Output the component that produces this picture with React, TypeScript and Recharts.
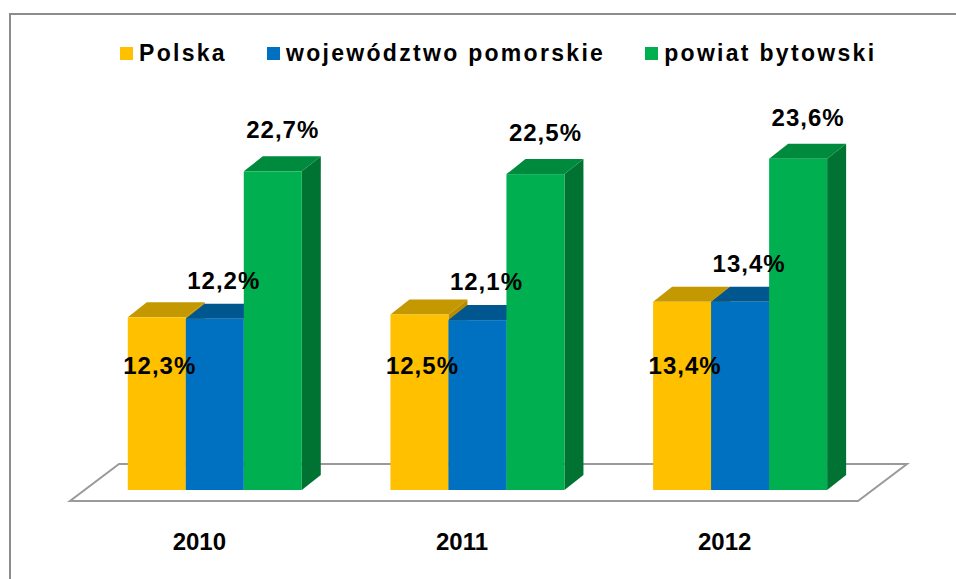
import { BarChart, Bar, XAxis, YAxis, ReferenceArea, LabelList } from 'recharts';

const years = ['2010', '2011', '2012'];
const polska = [12.3, 12.5, 13.4];
const pomorskie = [12.2, 12.1, 13.4];
const bytowski = [22.7, 22.5, 23.6];
const seriesNames = ['Polska', 'województwo pomorskie', 'powiat bytowski'];

const data = years.map((year, i) => ({
  year,
  polska: polska[i],
  pomorskie: pomorskie[i],
  bytowski: bytowski[i],
}));

const FONT = 'Arial, "Liberation Sans", sans-serif';
const DX = 19;
const DY = 15;

const series = [
  { key: 'polska', name: seriesNames[0], front: '#FFC000', top: '#C49800', side: '#B88C00', labelDx: 3, labelMode: 'base', labelOff: 116 },
  { key: 'pomorskie', name: seriesNames[1], front: '#0070C0', top: '#00568F', side: '#005A9A', labelDx: 9, labelMode: 'above', labelOff: 30 },
  { key: 'bytowski', name: seriesNames[2], front: '#00B050', top: '#008A3E', side: '#007232', labelDx: 10, labelMode: 'above', labelOff: 33 },
];

// front face + top + right side, drawn from the bar rect recharts gives us
function Bar3D({ x, y, width, height, front, top, side }: any) {
  const X = Number(x), Y = Number(y), W = Number(width), H = Number(height);
  if (!H) return null;
  return (
    <g>
      <polygon points={`${X + W},${Y} ${X + W + DX},${Y - DY} ${X + W + DX},${Y + H - DY} ${X + W},${Y + H}`} fill={side} />
      <polygon points={`${X},${Y} ${X + DX},${Y - DY} ${X + W + DX},${Y - DY} ${X + W},${Y}`} fill={top} />
      <rect x={X} y={Y} width={W} height={H} fill={front} />
    </g>
  );
}

const fmt = (v: number) => v.toFixed(1).replace('.', ',') + '%';

function makeLabel(s: any) {
  return (p: any) => {
    const x = Number(p.x), y = Number(p.y), w = Number(p.width), h = Number(p.height);
    const ly = s.labelMode === 'base' ? y + h - s.labelOff : y - s.labelOff;
    return (
      <text x={x + w / 2 + s.labelDx} y={ly} textAnchor="middle" fontFamily={FONT}
        fontSize={24} fontWeight="bold" letterSpacing={1} fill="#000">
        {fmt(Number(p.value))}
      </text>
    );
  };
}

function Floor({ x, y, width }: any) {
  const X = Number(x), Y = Number(y), W = Number(width);
  const pts = `${X - 14},${Y + 11} ${X + W - 14},${Y + 11} ${X + W + 35},${Y - 26} ${X + 35},${Y - 26}`;
  return <polygon points={pts} fill="#fff" stroke="#9a9a9a" strokeWidth={2} />;
}

function YearTick({ x, y, payload }: any) {
  return (
    <text x={Number(x) - 16} y={Number(y) + 60} textAnchor="middle" fontFamily={FONT}
      fontSize={24} fontWeight="bold" fill="#000">
      {payload.value}
    </text>
  );
}

export default function App() {
  return (
    <div style={{ position: 'absolute', left: 0, top: 0, width: 956, height: 579, overflow: 'hidden', background: '#fff', fontFamily: FONT }}>
      {/* frame */}
      <div style={{ position: 'absolute', left: 9, top: 13, width: 1000, height: 1000, borderLeft: '2px solid #8c8c8c', borderTop: '2px solid #8c8c8c' }} />

      {/* legend */}
      <div style={{ position: 'absolute', left: 120, top: 42, display: 'flex', alignItems: 'center', gap: 40 }}>
        {series.map(s => (
          <div key={s.key} style={{ display: 'flex', alignItems: 'center' }}>
            <div style={{ width: 13, height: 13, background: s.front, marginRight: 6 }} />
            <span style={{ fontSize: 23, lineHeight: '23px', fontWeight: 'bold', letterSpacing: 2.3, color: '#000' }}>{s.name}</span>
          </div>
        ))}
      </div>

      <div style={{ position: 'absolute', left: 0, top: 0 }}>
        <BarChart width={956} height={579} data={data} margin={{ top: 139, right: 84, left: 84, bottom: 29 }}
          barCategoryGap="16.67%" barGap={0}>
          <XAxis dataKey="year" height={60} axisLine={false} tickLine={false} tickSize={0} tickMargin={0}
            interval={0} tick={<YearTick />} />
          <YAxis hide domain={[0, 25]} />
          <ReferenceArea y1={0} y2={0} ifOverflow="visible" shape={(p: any) => <Floor {...p} />} />
          {series.map(s => (
            <Bar key={s.key} dataKey={s.key} name={s.name} isAnimationActive={false}
              shape={(p: any) => <Bar3D {...p} front={s.front} top={s.top} side={s.side} />}>
              <LabelList dataKey={s.key} content={makeLabel(s)} />
            </Bar>
          ))}
        </BarChart>
      </div>
    </div>
  );
}
